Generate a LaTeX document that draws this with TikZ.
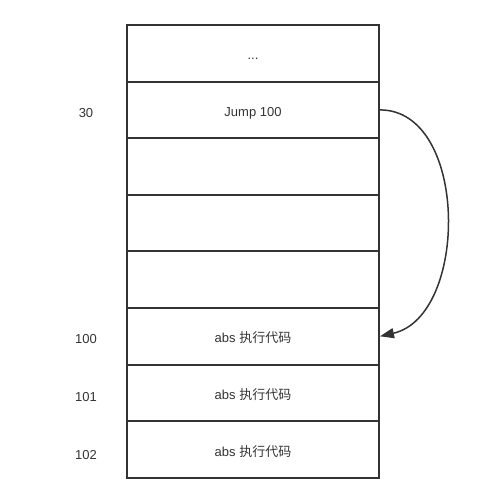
\documentclass[tikz,border=0pt]{standalone}
\usepackage{fontspec}
\setmainfont{Liberation Sans}
\newfontfamily\cjk{Noto Sans CJK SC}
\usetikzlibrary{arrows.meta}
\definecolor{ink}{HTML}{333333}
\tikzset{
  cell/.style={draw=ink, line width=2pt, minimum width=252pt, minimum height=56.6pt, inner sep=0pt, text height=13pt, text depth=0pt, font=\fontsize{13}{15}\selectfont, text=ink},
  addr/.style={font=\fontsize{13}{15}\selectfont, text=ink, inner sep=0pt, text height=13pt, text depth=0pt},
  jump/.style={draw=ink, line width=1.5pt, -{Triangle[length=14pt,width=10pt]}}
}
\begin{document}
\begin{tikzpicture}[x=1pt,y=-1pt]
\useasboundingbox (0,0) rectangle (493,504);
\node[cell] (r0) at (253,53.3) {...};
\node[cell] (r1) at (253,109.9) {Jump 100};
\node[cell] (r2) at (253,166.5) {};
\node[cell] (r3) at (253,223.1) {};
\node[cell] (r4) at (253,279.7) {};
\node[cell] (r5) at (253,336.3) {abs {\cjk 执行代码}};
\node[cell] (r6) at (253,392.9) {abs {\cjk 执行代码}};
\node[cell] (r7) at (253,449.5) {abs {\cjk 执行代码}};
\node[addr] (a30) at (86,111) {30};
\node[addr] (a100) at (86,337) {100};
\node[addr] (a101) at (86,395) {101};
\node[addr] (a102) at (86,453) {102};
\coordinate (s) at (r1.east);
\coordinate (e) at (r5.east);
\draw[jump] (s) .. controls (469,110) and (469,316) .. (e);
\end{tikzpicture}
\end{document}
